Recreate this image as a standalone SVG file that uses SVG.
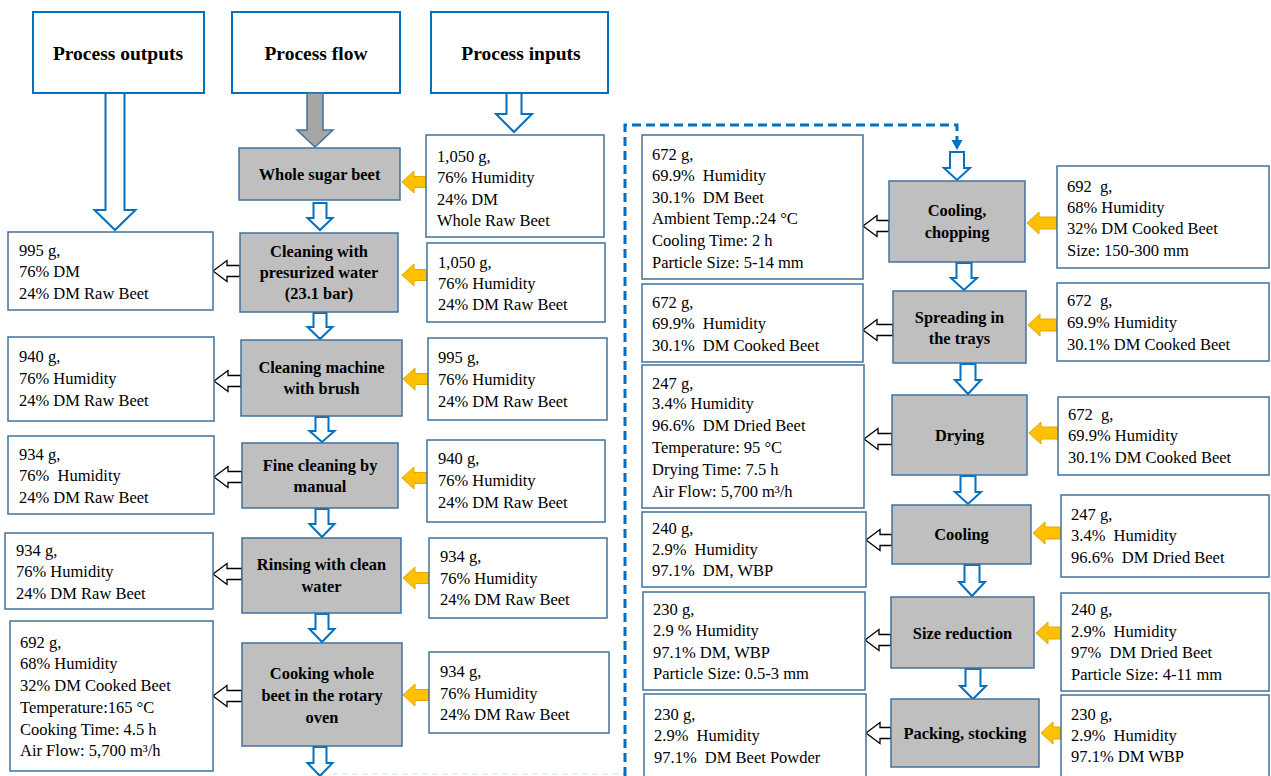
<svg xmlns="http://www.w3.org/2000/svg" width="1271" height="776" viewBox="0 0 1271 776">
<style>
.hdr{fill:#fff;stroke:#0070c0;stroke-width:2}
.proc{fill:#bfbfbf;stroke:#41719c;stroke-width:1.5}
.info{fill:#fff;stroke:#41719c;stroke-width:1.5}
.barr{fill:#fff;stroke:#0070c0;stroke-width:2;stroke-linejoin:miter}
.karr{fill:#fff;stroke:#000;stroke-width:1.3}
.oarr{fill:#ffc000;stroke:#e0a800;stroke-width:1}
.garr{fill:#a6a6a6;stroke:#41719c;stroke-width:1.5}
.dash{fill:none;stroke:#0070c0;stroke-width:3;stroke-dasharray:9 5}
text{font-family:"Liberation Serif","Times New Roman",serif;fill:#000;dominant-baseline:central;white-space:pre}
.t{font-size:16.5px}
.b{font-size:16.4px;font-weight:bold;text-anchor:middle}
.h{font-size:19.5px;font-weight:bold;text-anchor:middle}
</style>

<g id="hdr-outputs"><rect class="hdr" x="33" y="12" width="171" height="81"/><text class="h" x="118" y="53">Process outputs</text></g>
<g id="hdr-flow"><rect class="hdr" x="232" y="12" width="168" height="81"/><text class="h" x="316" y="53">Process flow</text></g>
<g id="hdr-inputs"><rect class="hdr" x="431" y="12" width="177" height="81"/><text class="h" x="521" y="53">Process inputs</text></g>

<g id="connectors">
<path class="barr" d="M105.5 93 H124.5 V210 H135.5 L115 230 L94.5 210 H105.5 Z"/>
<path class="garr" d="M307 93 H323 V130 H333 L315 147 L297 130 H307 Z"/>
<path class="barr" d="M506.5 93 H521.5 V114 H532 L514 132 L496 114 H506.5 Z"/>
<path class="barr" d="M313.5 203 H326.5 V218 H332.5 L320 230 L307.5 218 H313.5 Z"/>
<path class="barr" d="M313.5 313 H326.5 V327 H332.5 L320 339 L307.5 327 H313.5 Z"/>
<path class="barr" d="M315.5 417 H328.5 V431 H334.5 L322 442 L309.5 431 H315.5 Z"/>
<path class="barr" d="M315.5 509 H328.5 V524 H334.5 L322 537 L309.5 524 H315.5 Z"/>
<path class="barr" d="M315.5 614 H328.5 V629 H334.5 L322 642 L309.5 629 H315.5 Z"/>
<path class="barr" d="M313.5 747 H326.5 V763 H332.5 L320 776 L307.5 763 H313.5 Z"/>
<path class="oarr" d="M427 176.5 H414 V171 L402 182 L414 193 V187.5 H427 Z"/>
<path class="oarr" d="M427 269.5 H414 V264 L402 275 L414 286 V280.5 H427 Z"/>
<path class="oarr" d="M428 373.5 H415 V368 L403 379 L415 390 V384.5 H428 Z"/>
<path class="oarr" d="M427 472.5 H414 V467 L402 478 L414 489 V483.5 H427 Z"/>
<path class="oarr" d="M429 572.5 H415 V567 L403 578 L415 589 V583.5 H429 Z"/>
<path class="oarr" d="M429 689.5 H415 V684 L403 695 L415 706 V700.5 H429 Z"/>
<path class="karr" d="M240 265.5 H227 V260.5 L213 271 L227 281.5 V276.5 H240 Z"/>
<path class="karr" d="M241 375.5 H228 V370.5 L214 381 L228 391.5 V386.5 H241 Z"/>
<path class="karr" d="M242 471.5 H228 V466.5 L214 477 L228 487.5 V482.5 H242 Z"/>
<path class="karr" d="M242 568.5 H227 V563.5 L213 574 L227 584.5 V579.5 H242 Z"/>
<path class="karr" d="M242 690.5 H227 V685.5 L213 696 L227 706.5 V701.5 H242 Z"/>
<path d="M332 774 H625" fill="none" stroke="#deebf7" stroke-width="1.5" stroke-dasharray="6 4"/>
<path class="dash" d="M625 776 V125 H957 V141"/>
<polygon points="951.5,140 962.5,140 957,150" fill="#0070c0"/>
<path class="barr" d="M950 152 H964 V168 H970 L957 180 L944 168 H950 Z"/>
<path class="barr" d="M956.5 263 H971.5 V278 H977 L964 290 L951 278 H956.5 Z"/>
<path class="barr" d="M960.5 364 H975.5 V380 H981 L968 394 L955 380 H960.5 Z"/>
<path class="barr" d="M960.5 476 H975.5 V492 H981 L968 504 L955 492 H960.5 Z"/>
<path class="barr" d="M964.5 565 H979.5 V582 H985 L972 596 L959 582 H964.5 Z"/>
<path class="barr" d="M965.5 669 H980.5 V686 H986 L973 699 L960 686 H965.5 Z"/>
<path class="oarr" d="M1057 217 H1039 V212 L1027 223 L1039 234 V229 H1057 Z"/>
<path class="oarr" d="M1057 319 H1040 V314 L1028 325 L1040 336 V331 H1057 Z"/>
<path class="oarr" d="M1058 427 H1041 V422 L1029 433 L1041 444 V439 H1058 Z"/>
<path class="oarr" d="M1061 527 H1045 V522 L1033 533 L1045 544 V539 H1061 Z"/>
<path class="oarr" d="M1061 627 H1048 V622 L1036 633 L1048 644 V639 H1061 Z"/>
<path class="oarr" d="M1061 727 H1053 V722 L1041 733 L1053 744 V739 H1061 Z"/>
<path class="karr" d="M889 220.5 H877 V215.5 L863 226 L877 236.5 V231.5 H889 Z"/>
<path class="karr" d="M893 324.5 H877 V319.5 L863 330 L877 340.5 V335.5 H893 Z"/>
<path class="karr" d="M892 433.5 H878 V428.5 L864 439 L878 449.5 V444.5 H892 Z"/>
<path class="karr" d="M892 534.5 H880 V529.5 L866 540 L880 550.5 V545.5 H892 Z"/>
<path class="karr" d="M891 634.5 H879 V629.5 L865 640 L879 650.5 V645.5 H891 Z"/>
<path class="karr" d="M891 727.5 H880 V722.5 L866 733 L880 743.5 V738.5 H891 Z"/>
</g>

<g id="p1"><rect class="proc" x="239" y="148" width="161" height="52"/><text class="b" x="319.5" y="174">Whole sugar beet</text></g>
<g id="p2"><rect class="proc" x="240" y="233" width="158" height="79"/><text class="b"><tspan x="319" y="251">Cleaning with</tspan><tspan x="319" y="272">presurized water</tspan><tspan x="319" y="293">(23.1 bar)</tspan></text></g>
<g id="p3"><rect class="proc" x="241" y="340" width="161" height="76"/><text class="b"><tspan x="321.5" y="367">Cleaning machine</tspan><tspan x="321.5" y="388">with brush</tspan></text></g>
<g id="p4"><rect class="proc" x="242" y="443" width="156" height="65"/><text class="b"><tspan x="320" y="465">Fine cleaning by</tspan><tspan x="320" y="486">manual</tspan></text></g>
<g id="p5"><rect class="proc" x="242" y="538" width="159" height="75"/><text class="b"><tspan x="321.5" y="564">Rinsing with clean</tspan><tspan x="321.5" y="586">water</tspan></text></g>
<g id="p6"><rect class="proc" x="242" y="643" width="160" height="103"/><text class="b"><tspan x="322" y="673">Cooking whole</tspan><tspan x="322" y="695">beet in the rotary</tspan><tspan x="322" y="717">oven</tspan></text></g>

<g id="i1"><rect class="info" x="426" y="135" width="178" height="102"/><text class="t"><tspan x="437" y="156">1,050 g,</tspan><tspan x="437" y="177">76% Humidity</tspan><tspan x="437" y="199">24% DM</tspan><tspan x="437" y="220">Whole Raw Beet</tspan></text></g>
<g id="i2"><rect class="info" x="427" y="243" width="178" height="79"/><text class="t"><tspan x="438" y="262">1,050 g,</tspan><tspan x="438" y="283">76% Humidity</tspan><tspan x="438" y="304">24% DM Raw Beet</tspan></text></g>
<g id="i3"><rect class="info" x="428" y="338" width="179" height="82"/><text class="t"><tspan x="438" y="357">995 g,</tspan><tspan x="438" y="379">76% Humidity</tspan><tspan x="438" y="401">24% DM Raw Beet</tspan></text></g>
<g id="i4"><rect class="info" x="427" y="440" width="178" height="82"/><text class="t"><tspan x="438" y="458">940 g,</tspan><tspan x="438" y="480">76% Humidity</tspan><tspan x="438" y="502">24% DM Raw Beet</tspan></text></g>
<g id="i5"><rect class="info" x="429" y="538" width="178" height="80"/><text class="t"><tspan x="440" y="556">934 g,</tspan><tspan x="440" y="578">76% Humidity</tspan><tspan x="440" y="599">24% DM Raw Beet</tspan></text></g>
<g id="i6"><rect class="info" x="429" y="652" width="180" height="81"/><text class="t"><tspan x="440" y="671">934 g,</tspan><tspan x="440" y="693">76% Humidity</tspan><tspan x="440" y="714">24% DM Raw Beet</tspan></text></g>

<g id="o1"><rect class="info" x="8" y="232" width="205" height="78"/><text class="t"><tspan x="19" y="250">995 g,</tspan><tspan x="19" y="271">76% DM</tspan><tspan x="19" y="293">24% DM Raw Beet</tspan></text></g>
<g id="o2"><rect class="info" x="8" y="337" width="206" height="84"/><text class="t"><tspan x="19" y="356">940 g,</tspan><tspan x="19" y="378">76% Humidity</tspan><tspan x="19" y="400">24% DM Raw Beet</tspan></text></g>
<g id="o3"><rect class="info" x="8" y="436" width="206" height="78"/><text class="t"><tspan x="19" y="454">934 g,</tspan><tspan x="19" y="475">76%  Humidity</tspan><tspan x="19" y="497">24% DM Raw Beet</tspan></text></g>
<g id="o4"><rect class="info" x="5" y="533" width="208" height="76"/><text class="t"><tspan x="16" y="550">934 g,</tspan><tspan x="16" y="571">76% Humidity</tspan><tspan x="16" y="593">24% DM Raw Beet</tspan></text></g>
<g id="o5"><rect class="info" x="10" y="621" width="203" height="150"/><text class="t"><tspan x="20" y="642">692 g,</tspan><tspan x="20" y="663">68% Humidity</tspan><tspan x="20" y="685">32% DM Cooked Beet</tspan><tspan x="20" y="707">Temperature:165 °C</tspan><tspan x="20" y="729">Cooking Time: 4.5 h</tspan><tspan x="20" y="750">Air Flow: 5,700 m³/h</tspan></text></g>

<g id="rp1"><rect class="proc" x="889" y="181" width="136" height="81"/><text class="b"><tspan x="957" y="210">Cooling,</tspan><tspan x="957" y="232">chopping</tspan></text></g>
<g id="rp2"><rect class="proc" x="893" y="291" width="133" height="72"/><text class="b"><tspan x="959.5" y="317">Spreading in</tspan><tspan x="959.5" y="338">the trays</tspan></text></g>
<g id="rp3"><rect class="proc" x="892" y="395" width="135" height="80"/><text class="b" x="959.5" y="435">Drying</text></g>
<g id="rp4"><rect class="proc" x="892" y="505" width="139" height="59"/><text class="b" x="961.5" y="534">Cooling</text></g>
<g id="rp5"><rect class="proc" x="891" y="597" width="143" height="71"/><text class="b" x="962.5" y="633">Size reduction</text></g>
<g id="rp6"><rect class="proc" x="891" y="699" width="148" height="68"/><text class="b" x="965" y="733">Packing, stocking</text></g>

<g id="ro1"><rect class="info" x="642" y="135" width="221" height="144"/><text class="t"><tspan x="652" y="154">672 g,</tspan><tspan x="652" y="175">69.9%  Humidity</tspan><tspan x="652" y="197">30.1%  DM Beet</tspan><tspan x="652" y="218">Ambient Temp.:24 °C</tspan><tspan x="652" y="240">Cooling Time: 2 h</tspan><tspan x="652" y="262">Particle Size: 5-14 mm</tspan></text></g>
<g id="ro2"><rect class="info" x="642" y="284" width="221" height="78"/><text class="t"><tspan x="652" y="302">672 g,</tspan><tspan x="652" y="323">69.9%  Humidity</tspan><tspan x="652" y="345">30.1%  DM Cooked Beet</tspan></text></g>
<g id="ro3"><rect class="info" x="642" y="365" width="222" height="143"/><text class="t"><tspan x="652" y="383">247 g,</tspan><tspan x="652" y="403">3.4% Humidity</tspan><tspan x="652" y="425">96.6%  DM Dried Beet</tspan><tspan x="652" y="447">Temperature: 95 °C</tspan><tspan x="652" y="469">Drying Time: 7.5 h</tspan><tspan x="652" y="491">Air Flow: 5,700 m³/h</tspan></text></g>
<g id="ro4"><rect class="info" x="642" y="512" width="224" height="75"/><text class="t"><tspan x="652" y="528">240 g,</tspan><tspan x="652" y="549">2.9%  Humidity</tspan><tspan x="652" y="570">97.1%  DM, WBP</tspan></text></g>
<g id="ro5"><rect class="info" x="643" y="592" width="222" height="98"/><text class="t"><tspan x="653" y="609">230 g,</tspan><tspan x="653" y="630">2.9 % Humidity</tspan><tspan x="653" y="652">97.1% DM, WBP</tspan><tspan x="653" y="673">Particle Size: 0.5-3 mm</tspan></text></g>
<g id="ro6"><rect class="info" x="644" y="694" width="222" height="88"/><text class="t"><tspan x="654" y="714">230 g,</tspan><tspan x="654" y="735">2.9%  Humidity</tspan><tspan x="654" y="757">97.1%  DM Beet Powder</tspan></text></g>

<g id="ri1"><rect class="info" x="1057" y="166" width="212" height="102"/><text class="t"><tspan x="1067" y="186">692  g,</tspan><tspan x="1067" y="207">68% Humidity</tspan><tspan x="1067" y="228">32% DM Cooked Beet</tspan><tspan x="1067" y="250">Size: 150-300 mm</tspan></text></g>
<g id="ri2"><rect class="info" x="1057" y="283" width="212" height="78"/><text class="t"><tspan x="1067" y="300">672  g,</tspan><tspan x="1067" y="322">69.9% Humidity</tspan><tspan x="1067" y="344">30.1% DM Cooked Beet</tspan></text></g>
<g id="ri3"><rect class="info" x="1058" y="397" width="211" height="78"/><text class="t"><tspan x="1068" y="414">672  g,</tspan><tspan x="1068" y="435">69.9% Humidity</tspan><tspan x="1068" y="457">30.1% DM Cooked Beet</tspan></text></g>
<g id="ri4"><rect class="info" x="1061" y="495" width="208" height="82"/><text class="t"><tspan x="1071" y="514">247 g,</tspan><tspan x="1071" y="535">3.4%  Humidity</tspan><tspan x="1071" y="557">96.6%  DM Dried Beet</tspan></text></g>
<g id="ri5"><rect class="info" x="1061" y="593" width="208" height="98"/><text class="t"><tspan x="1071" y="609">240 g,</tspan><tspan x="1071" y="631">2.9%  Humidity</tspan><tspan x="1071" y="652">97%  DM Dried Beet</tspan><tspan x="1071" y="674">Particle Size: 4-11 mm</tspan></text></g>
<g id="ri6"><rect class="info" x="1061" y="695" width="208" height="88"/><text class="t"><tspan x="1071" y="714">230 g,</tspan><tspan x="1071" y="735">2.9%  Humidity</tspan><tspan x="1071" y="756">97.1% DM WBP</tspan></text></g>
</svg>
